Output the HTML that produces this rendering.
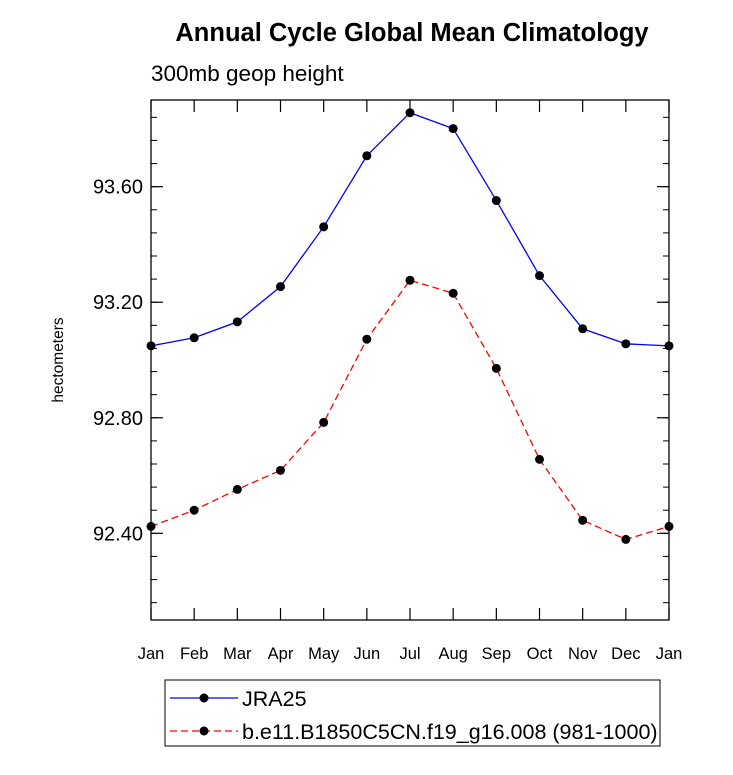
<!DOCTYPE html>
<html><head><meta charset="utf-8"><style>
body{margin:0;background:#fff;}
svg text{font-family:"Liberation Sans",Helvetica,sans-serif;fill:#000;}
</style></head><body>
<svg id="chart" width="733" height="770" xmlns="http://www.w3.org/2000/svg">
<text x="412" y="41" font-size="25.5" font-weight="bold" text-anchor="middle">Annual Cycle Global Mean Climatology</text>
<text x="151" y="81" font-size="22.5">300mb geop height</text>
<text transform="translate(63,360) rotate(-90)" font-size="15.5" text-anchor="middle">hectometers</text>
<g id="axes"></g>
<g id="series"></g>
<g id="legend">
<rect x="165" y="680" width="495" height="66" fill="none" stroke="#000" stroke-width="1"/>
<g>
<line x1="170" y1="698" x2="238" y2="698" stroke="#00f" stroke-width="1.3"/>
<circle cx="204" cy="698" r="4.5" fill="#000"/>
<text x="242" y="706" font-size="21.5">JRA25</text>
</g>
<g>
<line x1="170" y1="731" x2="238" y2="731" stroke="#f00" stroke-width="1.3" stroke-dasharray="7,4"/>
<circle cx="204" cy="731" r="4.5" fill="#000"/>
<text x="242" y="739" font-size="21.5">b.e11.B1850C5CN.f19_g16.008 (981-1000)</text>
</g>
</g>
</svg>
<script>
const months = ["Jan","Feb","Mar","Apr","May","Jun","Jul","Aug","Sep","Oct","Nov","Dec","Jan"];
const jra25 = [93.049,93.077,93.132,93.254,93.461,93.707,93.856,93.801,93.552,93.292,93.108,93.056,93.049];
const model = [92.424,92.480,92.552,92.618,92.784,93.072,93.276,93.231,92.971,92.656,92.445,92.379,92.424];
const yTicks = [92.40,92.80,93.20,93.60];
const yTickLabels = ["92.40","92.80","93.20","93.60"];
const yMin = 92.1, yMax = 93.9, yMinorStep = 0.08;

const L=151,R=669,T=100,B=620;
const NS="http://www.w3.org/2000/svg";
const xs=i=>L+(R-L)*i/(months.length-1);
const ys=v=>B-(v-yMin)/(yMax-yMin)*(B-T);
function mk(tag,attrs,parent){const e=document.createElementNS(NS,tag);for(const k in attrs)e.setAttribute(k,attrs[k]);parent.appendChild(e);return e;}
const ax=document.getElementById('axes');
const frame=mk('rect',{x:L,y:T,width:R-L,height:B-T,fill:'none',stroke:'#000','stroke-width':1.3},ax);


for(let v=yTicks[0]-yMinorStep*3; v<=yMax+1e-9; v+=yMinorStep){
  if(v<yMin-1e-9)continue;
  const y=ys(v);
  mk('line',{x1:L,y1:y,x2:L+6,y2:y,stroke:'#000'},ax);
  mk('line',{x1:R,y1:y,x2:R-6,y2:y,stroke:'#000'},ax);
}
yTicks.forEach((v,i)=>{
  const y=ys(v);
  mk('line',{x1:L,y1:y,x2:L+12,y2:y,stroke:'#000','stroke-width':1.2},ax);
  mk('line',{x1:R,y1:y,x2:R-12,y2:y,stroke:'#000','stroke-width':1.2},ax);
  const t=mk('text',{x:L-8,y:y+7,'font-size':20,'text-anchor':'end'},ax);
  t.textContent=yTickLabels[i];
  
  
});
months.forEach((m,i)=>{
  const x=xs(i);
  mk('line',{x1:x,y1:B,x2:x,y2:B-12,stroke:'#000','stroke-width':1.2},ax);
  mk('line',{x1:x,y1:T,x2:x,y2:T+12,stroke:'#000','stroke-width':1.2},ax);
  const t=mk('text',{x:x,y:B+39,'font-size':16.5,'text-anchor':'middle'},ax);
  t.textContent=m;
  
  
});
const sg=document.getElementById('series');
function drawSeries(vals,color,dash,name){
  const g=mk('g',{},sg);
  
  
  const p=mk('polyline',{points:vals.map((v,i)=>xs(i)+','+ys(v)).join(' '),fill:'none',stroke:color,'stroke-width':1.3},g);
  if(dash)p.setAttribute('stroke-dasharray',dash);
  
  
  vals.forEach((v,i)=>{
    const c=mk('circle',{cx:xs(i),cy:ys(v),r:4.5,fill:'#000'},g);
    
    
  });
}
drawSeries(jra25,'#00f',null,'jra25-series');
drawSeries(model,'#f00','7,4','model-series');
</script>
</body></html>
